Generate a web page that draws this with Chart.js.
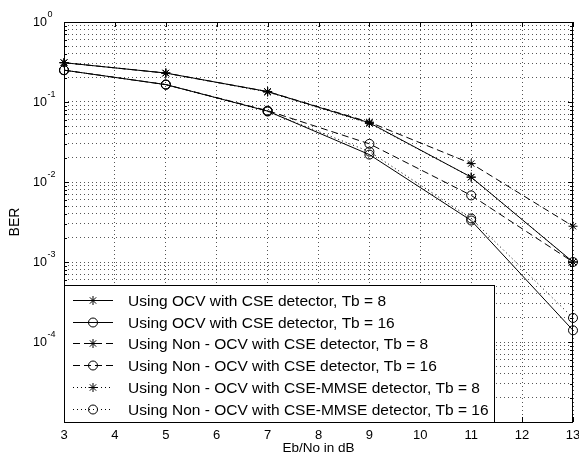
<!DOCTYPE html>
<html>
<head>
<meta charset="utf-8">
<script src="https://cdn.jsdelivr.net/npm/chart.js@4.4.1/dist/chart.umd.min.js"></script>
<style>
  html, body { margin: 0; padding: 0; background: #fff; }
  #wrap { width: 579px; height: 466px; }
</style>
</head>
<body>
<div id="wrap"><canvas id="berChart" width="579" height="466"></canvas></div>
<script>
// BER vs Eb/No
const ebno = [3, 5, 7, 9, 11, 13];

const ocvCseTb8      = [0.31, 0.23, 0.135, 0.055, 0.0115, 0.001];
const ocvCseTb16     = [0.25, 0.165, 0.077, 0.022, 0.0033, 0.00014];
const nonOcvCseTb8   = [0.31, 0.23, 0.135, 0.056, 0.017, 0.0028];
const nonOcvCseTb16  = [0.25, 0.165, 0.078, 0.030, 0.0068, 0.001];
const nonOcvMmseTb8  = [0.31, 0.23, 0.133, 0.054, 0.0115, 0.001];
const nonOcvMmseTb16 = [0.25, 0.165, 0.076, 0.024, 0.0035, 0.0002];

const seriesLabels = [
    'Using OCV with CSE detector, Tb = 8',
    'Using OCV with CSE detector, Tb = 16',
    'Using Non - OCV with CSE detector, Tb = 8',
    'Using Non - OCV with CSE detector, Tb = 16',
    'Using Non - OCV with CSE-MMSE detector, Tb = 8',
    'Using Non - OCV with CSE-MMSE detector, Tb = 16'
];

const xTicks = [3, 4, 5, 6, 7, 8, 9, 10, 11, 12, 13];
const yDecades = [-5, -4, -3, -2, -1, 0];
const yLabelExponents = [0, -1, -2, -3, -4];

const FONT = "'Liberation Sans', Arial, Helvetica, sans-serif";
const DASHED = [7, 4];
const DOTTED = [1, 3];

// every 1..9 x 10^n gets a grid line, like MATLAB's minor log grid
function logGridValues() {
    const vals = [];
    yDecades.forEach(e => {
        if (e === 0) { vals.push(1); return; }
        for (let m = 1; m <= 9; m++) vals.push(m * Math.pow(10, e));
    });
    return vals;
}

function series(label, data, dash, marker) {
    return {
        label, data,
        borderColor: '#000',
        borderWidth: 1,
        borderDash: dash,
        backgroundColor: 'rgba(0,0,0,0)',
        pointStyle: marker,
        pointRadius: 4.5,
        pointBorderColor: '#000',
        pointBorderWidth: 1,
        pointBackgroundColor: 'rgba(0,0,0,0)',
        tension: 0,
        clip: false
    };
}

const toPoints = arr => arr.map((v, i) => ({ x: ebno[i], y: v }));

// ─── legend, inward ticks, axes box, 10^n labels ───
const matlabFrame = {
    id: 'matlabFrame',
    afterDatasetsDraw(chart) {
        const { ctx, chartArea: a, scales: { x, y } } = chart;
        ctx.save();
        ctx.strokeStyle = '#000';
        ctx.lineWidth = 1;
        ctx.setLineDash([]);

        // tick marks pointing inwards
        ctx.beginPath();
        xTicks.forEach(t => {
            const px = Math.round(x.getPixelForValue(t)) + 0.5;
            ctx.moveTo(px, a.bottom); ctx.lineTo(px, a.bottom - 5);
            ctx.moveTo(px, a.top); ctx.lineTo(px, a.top + 5);
        });
        logGridValues().forEach(v => {
            const py = Math.round(y.getPixelForValue(v)) + 0.5;
            const major = Math.abs(Math.log10(v) - Math.round(Math.log10(v))) < 1e-9;
            const len = major ? 5 : 3;
            ctx.moveTo(a.left, py); ctx.lineTo(a.left + len, py);
            ctx.moveTo(a.right, py); ctx.lineTo(a.right - len, py);
        });
        ctx.stroke();

        // legend box in the lower-left corner
        const box = { left: a.left, right: 494, top: 285, bottom: a.bottom };
        ctx.fillStyle = '#fff';
        ctx.fillRect(box.left, box.top, box.right - box.left, box.bottom - box.top);
        ctx.strokeRect(box.left + 0.5, box.top + 0.5, box.right - box.left, box.bottom - box.top);

        const rowH = 21.7;
        chart.data.datasets.forEach((ds, i) => {
            const cy = Math.round(box.top + 15 + i * rowH) + 0.5;
            ctx.save();
            ctx.setLineDash(ds.borderDash || []);
            ctx.beginPath();
            ctx.moveTo(73, cy); ctx.lineTo(113, cy);
            ctx.stroke();
            ctx.restore();
            ctx.fillStyle = 'rgba(0,0,0,0)';
            Chart.helpers.drawPoint(ctx, {
                pointStyle: ds.pointStyle, radius: 4.5, borderWidth: 1, rotation: 0
            }, 93, cy);
            ctx.fillStyle = '#000';
            ctx.font = '15.5px ' + FONT;
            ctx.textBaseline = 'middle';
            ctx.textAlign = 'left';
            ctx.fillText(ds.label, 128, cy + 1);
        });

        // axes box
        ctx.strokeRect(Math.round(a.left) + 0.5, Math.round(a.top) + 0.5,
            Math.round(a.right - a.left) - 1, Math.round(a.bottom - a.top));

        // y labels 10^n
        ctx.fillStyle = '#000';
        yLabelExponents.forEach(e => {
            const py = y.getPixelForValue(Math.pow(10, e));
            ctx.font = '12.5px ' + FONT;
            ctx.textAlign = 'right';
            ctx.textBaseline = 'middle';
            ctx.fillText('10', 47, py + 1);
            ctx.font = '9px ' + FONT;
            ctx.textAlign = 'left';
            ctx.fillText(String(e), 47.5, py - 7);
        });
        ctx.restore();
    }
};

new Chart(document.getElementById('berChart'), {
    type: 'line',
    data: {
        datasets: [
            series(seriesLabels[0], toPoints(ocvCseTb8), [], 'star'),
            series(seriesLabels[1], toPoints(ocvCseTb16), [], 'circle'),
            series(seriesLabels[2], toPoints(nonOcvCseTb8), DASHED, 'star'),
            series(seriesLabels[3], toPoints(nonOcvCseTb16), DASHED, 'circle'),
            series(seriesLabels[4], toPoints(nonOcvMmseTb8), DOTTED, 'star'),
            series(seriesLabels[5], toPoints(nonOcvMmseTb16), DOTTED, 'circle')
        ]
    },
    options: {
        responsive: false,
        animation: false,
        layout: { padding: { top: 22, right: 6, left: 0, bottom: 0 } },
        plugins: { legend: { display: false }, tooltip: { enabled: false } },
        scales: {
            x: {
                type: 'linear',
                min: 3, max: 13,
                afterBuildTicks: s => { s.ticks = xTicks.map(v => ({ value: v })); },
                afterFit: s => { s.height = 44; s.paddingLeft = 0; s.paddingRight = 0; },
                ticks: {
                    color: '#000',
                    font: { family: FONT, size: 13 },
                    padding: 6,
                    maxRotation: 0,
                    autoSkip: false
                },
                grid: { color: '#555', drawTicks: false, lineWidth: 1 },
                border: { display: false, dash: DOTTED },
                title: {
                    display: true, text: 'Eb/No in dB', color: '#000',
                    font: { family: FONT, size: 13.5 },
                    padding: { top: 0, bottom: 10 }
                }
            },
            y: {
                type: 'logarithmic',
                min: 1e-5, max: 1,
                afterBuildTicks: s => { s.ticks = logGridValues().map(v => ({ value: v })); },
                afterFit: s => { s.width = 64; },
                ticks: { display: false },
                grid: { color: '#555', drawTicks: false, lineWidth: 1 },
                border: { display: false, dash: DOTTED },
                title: {
                    display: true, text: 'BER', color: '#000',
                    font: { family: FONT, size: 14 },
                    padding: { top: 7, bottom: 0 }
                }
            }
        }
    },
    plugins: [matlabFrame]
});
</script>
</body>
</html>
